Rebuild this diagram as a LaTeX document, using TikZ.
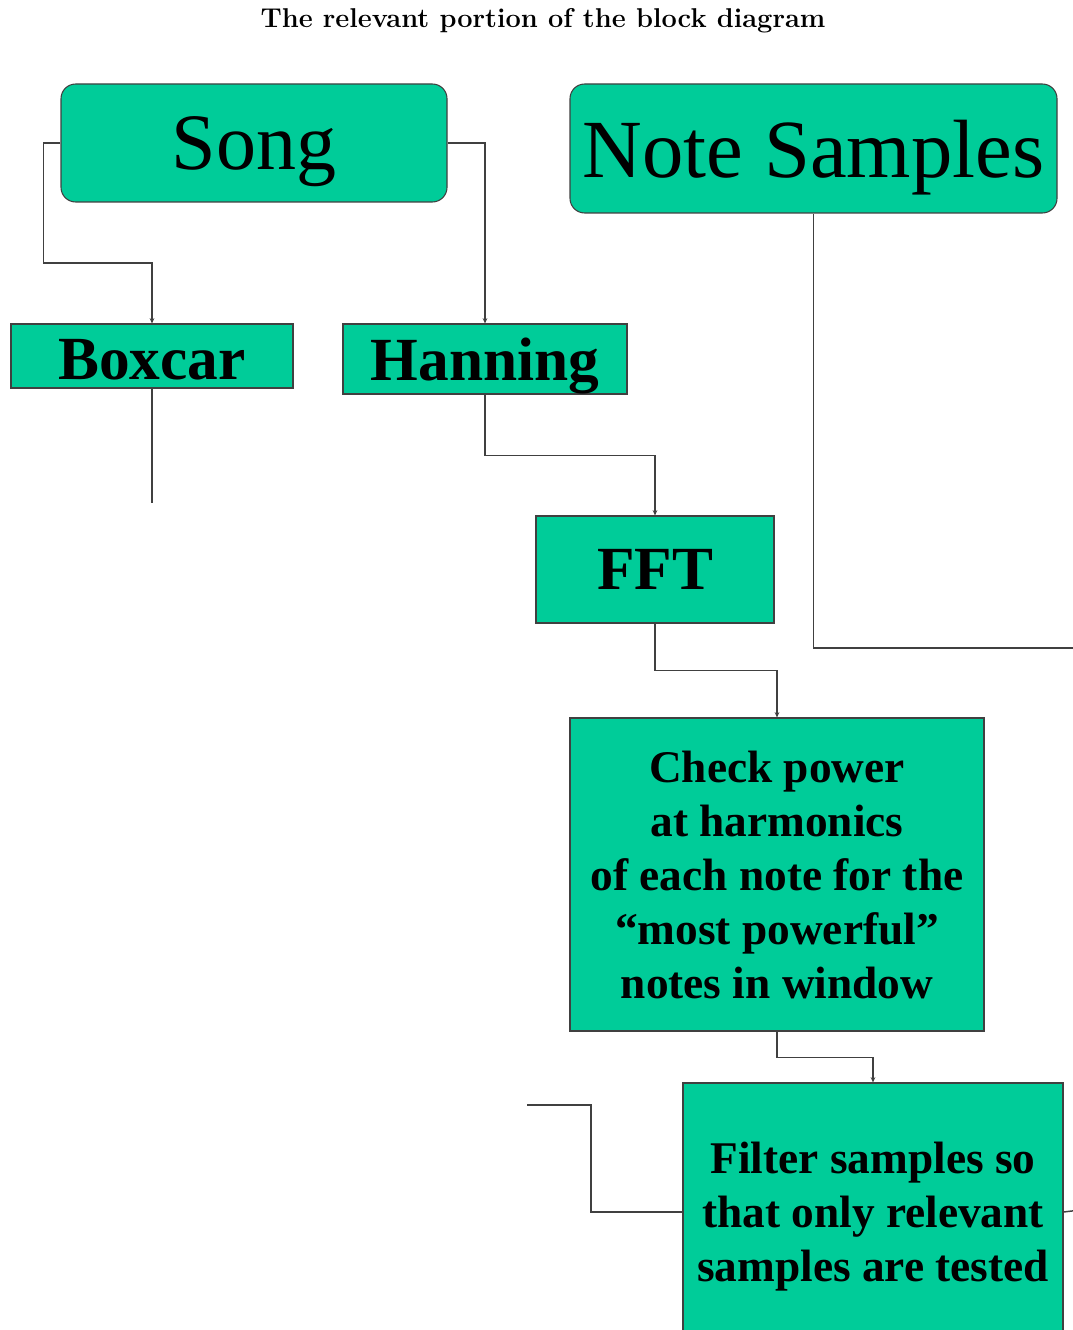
\documentclass[tikz,border=0pt]{standalone}
\usepackage{fontspec}
\usepackage{xcolor}
\usepackage{tikz}
\usetikzlibrary{arrows.meta}
\newfontfamily\boxfont[Ligatures=TeX]{Liberation Serif}
\definecolor{blockgreen}{HTML}{00CC99}
\definecolor{wiregray}{HTML}{404040}

\begin{document}
\begin{tikzpicture}[x=0.75pt,y=-0.75pt]
	\useasboundingbox (0,0) rectangle (1073,1330);
	\node (title) at (543,21) {\fontsize{20.4}{24}\selectfont\bfseries The relevant portion of the block diagram};
	\tikzstyle{block}=[draw=wiregray,line width=0.8pt,fill=blockgreen,inner sep=0pt,align=center]
	\tikzstyle{roundblock}=[block,rounded corners=11pt,text depth=0pt]
	\tikzstyle{wire}=[draw=wiregray,line width=1.1pt]
	\tikzstyle{feed}=[wire,-{Stealth[length=4pt,width=3.5pt]}]
	% sources
	\node[roundblock,minimum width=289.5pt,minimum height=88.5pt,font=\boxfont\fontsize{60}{72}\selectfont] (song) at (254,143) {Song};
	\node[roundblock,minimum width=365.25pt,minimum height=96.75pt,font=\boxfont\fontsize{62}{72}\selectfont] (note) at (813.5,148.5) {Note Samples};
	% windows
	\tikzstyle{bigbold}=[font=\boxfont\bfseries\fontsize{46}{50}\selectfont,text depth=0pt]
	\node[block,bigbold,text height=35pt,minimum width=211.5pt,minimum height=48pt] (boxcar) at (152,356) {Boxcar};
	\node[block,bigbold,minimum width=213pt,minimum height=52.5pt] (hanning) at (485,359) {Hanning};
	\node[block,bigbold,minimum width=178.5pt,minimum height=80.25pt] (fft) at (655,569.5) {FFT};
	% processing
	\tikzstyle{textbold}=[font=\boxfont\bfseries\fontsize{34}{40.5}\selectfont]
	\node[block,textbold,minimum width=310.5pt,minimum height=234.75pt] (check) at (777,874.5)
		{Check power\\at harmonics\\of each note for the\\``most powerful''\\notes in window};
	\node[block,textbold,text depth=0pt,minimum width=285pt,minimum height=193.5pt] (filter) at (873,1212)
		{Filter samples so\\that only relevant\\samples are tested};
	\coordinate (bxend) at (152,503);
	\coordinate (nsend) at (1080,648);
	\coordinate (fin) at (527,1105);
	\coordinate (fout) at (1080,1210);
	\draw[feed] (song.west) -- ++(-17,0) -- ++(0,120) -| (boxcar.north);
	\draw[feed] (song.east) -| (hanning.north);
	\draw[wire] (boxcar.south) -- (bxend);
	\draw[feed] (hanning.south) -- ++(0,61) -| (fft.north);
	\draw[feed] (fft.south) -- ++(0,47) -| (check.north);
	\draw[wire] (note.south) |- (nsend);
	\draw[feed] (check.south) -- ++(0,26) -| (filter.north);
	\draw[wire] (fin) -- ++(64,0) |- (filter.west);
	\draw[wire] (filter.east) -- (fout);
\end{tikzpicture}
\end{document}
